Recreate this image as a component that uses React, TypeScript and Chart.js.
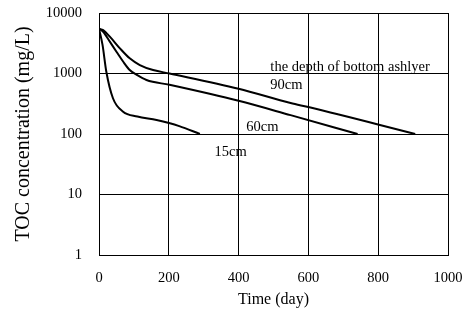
import React, { useEffect, useRef } from "react";
import { Chart, registerables } from "chart.js";

Chart.register(...registerables);

const days15 = [0, 10, 21, 40, 69, 110, 165, 230, 289];
const toc15 = [5500, 3000, 1070, 390, 234, 195, 170, 135, 100];

const days60 = [0, 12, 31, 50, 69, 88, 108, 136, 202, 400, 549, 741];
const toc60 = [5500, 4900, 3360, 2290, 1580, 1140, 950, 780, 650, 354, 205, 100];

const days90 = [0, 12, 31, 60, 88, 117, 155, 202, 400, 549, 603, 906];
const toc90 = [5500, 5200, 4070, 2600, 1780, 1380, 1140, 1000, 560, 325, 276, 100];

const xTicks = [0, 200, 400, 600, 800, 1000];
const yTicks = [1, 10, 100, 1000, 10000];

const notes = [
  { text: "the depth of bottom ashlyer", x: 491, y: 1280 },
  { text: "90cm", x: 491, y: 650 },
  { text: "60cm", x: 422, y: 130 },
  { text: "15cm", x: 331, y: 50 },
];

const FONT = "'Liberation Serif', 'Times New Roman', serif";

export default function App() {
  const ref = useRef<HTMLCanvasElement | null>(null);
  useEffect(() => {
    document.body.style.margin = "0";
    const mk = (xs: number[], ys: number[]) => xs.map((x, i) => ({ x, y: ys[i] }));
    const ds = (d: any[]) => ({
      data: d,
      borderColor: "#000",
      borderWidth: 2,
      pointRadius: 0,
      fill: false,
      cubicInterpolationMode: "monotone" as const,
    });
    const notePlugin = {
      id: "notes",
      afterDatasetsDraw(chart: any) {
        const { ctx, scales } = chart;
        ctx.save();
        ctx.fillStyle = "#000";
        ctx.font = `14.5px ${FONT}`;
        ctx.textAlign = "left";
        ctx.textBaseline = "middle";
        notes.forEach((n) => {
          ctx.fillText(n.text, scales.x.getPixelForValue(n.x), scales.y.getPixelForValue(n.y));
        });
        ctx.restore();
      },
    };
    const chart = new Chart(ref.current!, {
      type: "line",
      data: {
        datasets: [ds(mk(days15, toc15)), ds(mk(days60, toc60)), ds(mk(days90, toc90))],
      },
      options: {
        responsive: false,
        animation: false,
        layout: { padding: { top: 13, right: 24, left: 0, bottom: 0 } },
        plugins: { legend: { display: false }, tooltip: { enabled: false } },
        scales: {
          x: {
            type: "linear",
            min: 0,
            max: 1000,
            afterBuildTicks: (s: any) => {
              s.ticks = xTicks.map((v) => ({ value: v }));
            },
            afterFit: (s: any) => {
              s.height = 65;
              s.paddingLeft = 0;
              s.paddingRight = 0;
            },
            grid: { color: "#000", lineWidth: 1, drawTicks: false },
            border: { color: "#000", width: 1 },
            ticks: {
              color: "#000",
              font: { family: FONT, size: 14.5 },
              padding: 14,
              maxRotation: 0,
              callback: (v: any) => String(v),
            },
            title: {
              display: true,
              text: "Time (day)",
              color: "#000",
              font: { family: FONT, size: 16 },
              padding: { top: 0, bottom: 11 },
            },
          },
          y: {
            type: "logarithmic",
            min: 1,
            max: 10000,
            afterBuildTicks: (s: any) => {
              s.ticks = yTicks.map((v) => ({ value: v }));
            },
            afterFit: (s: any) => {
              s.width = 99;
              s.paddingTop = 0;
              s.paddingBottom = 0;
            },
            grid: { color: "#000", lineWidth: 1, drawTicks: false },
            border: { color: "#000", width: 1 },
            ticks: {
              color: "#000",
              font: { family: FONT, size: 14.5 },
              padding: 17,
              callback: (v: any) => String(v),
            },
            title: {
              display: true,
              text: "TOC concentration (mg/L)",
              color: "#000",
              font: { family: FONT, size: 20 },
              padding: { top: 12, bottom: 0 },
            },
          },
        },
      },
      plugins: [notePlugin],
    });
    return () => chart.destroy();
  }, []);
  return <canvas ref={ref} width={472} height={320} style={{ display: "block" }} />;
}
